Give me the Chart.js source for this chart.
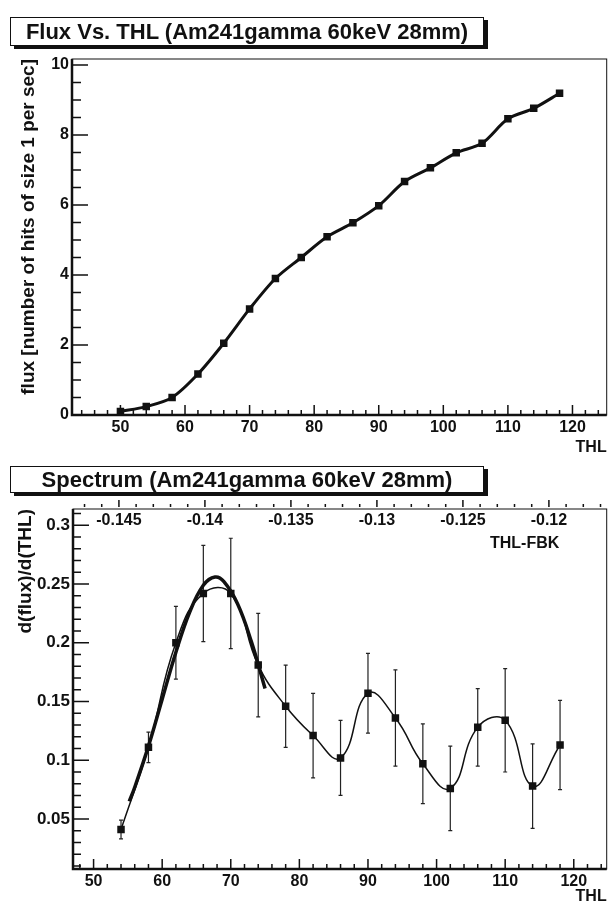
<!DOCTYPE html>
<html>
<head>
<meta charset="utf-8">
<script src="https://cdn.jsdelivr.net/npm/chart.js@4.4.1/dist/chart.umd.min.js"></script>
<style>
  html, body { margin: 0; padding: 0; background: #fff; }
  body { width: 612px; height: 908px; position: relative; overflow: hidden;
         font-family: 'Liberation Sans', Arial, Helvetica, sans-serif; color: #111; }
  canvas { position: absolute; left: 0; }
  #c1 { top: 0; }
  #c2 { top: 460px; }
  .titlebox { position: absolute; left: 10px; width: 474px; box-sizing: border-box;
              border: 1.5px solid #111; background: #fff; box-shadow: 4px 3px 0 #111;
              font-weight: bold; font-size: 22px; text-align: center; z-index: 2; white-space: nowrap; }
  #t1 { top: 17px; height: 29px; line-height: 27px; }
  #t2 { top: 466px; height: 27px; line-height: 25px; }
  #fbk { position: absolute; left: 490px; top: 534px; font-weight: bold; font-size: 16px; z-index: 2; }
</style>
</head>
<body>
<div class="titlebox" id="t1">Flux Vs. THL (Am241gamma 60keV 28mm)</div>
<div class="titlebox" id="t2">Spectrum (Am241gamma 60keV 28mm)</div>
<div id="fbk">THL-FBK</div>
<canvas id="c1" width="612" height="460"></canvas>
<canvas id="c2" width="612" height="448"></canvas>
<script>
// flux vs THL
const fluxTHL = [50, 54, 58, 62, 66, 70, 74, 78, 82, 86, 90, 94, 98, 102, 106, 110, 114, 118];
const flux = [0.10, 0.24, 0.50, 1.17, 2.05, 3.03, 3.90, 4.50, 5.09, 5.49, 5.98, 6.67, 7.06, 7.49, 7.76, 8.46, 8.76, 9.19];

// spectrum d(flux)/d(THL) with errors
const specTHL = [54, 58, 62, 66, 70, 74, 78, 82, 86, 90, 94, 98, 102, 106, 110, 114, 118];
const spec = [0.041, 0.111, 0.200, 0.242, 0.242, 0.181, 0.146, 0.121, 0.102, 0.157, 0.136, 0.097, 0.076, 0.128, 0.134, 0.078, 0.113];
const specErr = [0.008, 0.013, 0.031, 0.041, 0.047, 0.044, 0.035, 0.036, 0.032, 0.034, 0.041, 0.034, 0.036, 0.033, 0.044, 0.036, 0.038];

// gaussian fit curve
const fitTHL = [55.2, 56, 58, 60, 62, 64, 66, 67.7, 69, 71, 73, 75];
const fit = [0.065, 0.077, 0.112, 0.152, 0.192, 0.226, 0.249, 0.256, 0.252, 0.233, 0.201, 0.161];

// tick labels
const fluxXTicks = [50, 60, 70, 80, 90, 100, 110, 120];
const fluxYTicks = [0, 2, 4, 6, 8, 10];
const specXTicks = [50, 60, 70, 80, 90, 100, 110, 120];
const specYTicks = [0.05, 0.1, 0.15, 0.2, 0.25, 0.3];
const fbkTicks = [-0.145, -0.14, -0.135, -0.13, -0.125, -0.12];

const INK = '#111';
const FONT = "'Liberation Sans', Arial, Helvetica, sans-serif";
const tickFont = { family: FONT, size: 16, weight: 'bold' };
const titleFont = { family: FONT, size: 16, weight: 'bold' };

// ROOT style frame with inward major/minor ticks
const rootAxes = {
  id: 'rootAxes',
  afterDraw(chart, args, opts) {
    const ctx = chart.ctx, a = chart.chartArea;
    ctx.save();
    ctx.strokeStyle = INK;
    ctx.lineWidth = 1;
    ctx.strokeRect(a.left, a.top, a.right - a.left, a.bottom - a.top);
    ctx.lineWidth = 2.5;
    ctx.beginPath();
    ctx.moveTo(a.left, a.top);
    ctx.lineTo(a.left, a.bottom);
    ctx.lineTo(a.right, a.bottom);
    ctx.stroke();
    ctx.lineWidth = 1.5;
    for (const t of opts.ticks) {
      const s = chart.scales[t.id];
      const ratio = Math.round(t.major / t.minor);
      const k0 = Math.ceil(s.min / t.minor - 1e-9);
      const k1 = Math.floor(s.max / t.minor + 1e-9);
      ctx.beginPath();
      for (let k = k0; k <= k1; k++) {
        const len = k % ratio === 0 ? t.majorLen : t.minorLen;
        const p = s.getPixelForValue(k * t.minor);
        if (t.side === 'bottom') { ctx.moveTo(p, a.bottom); ctx.lineTo(p, a.bottom - len); }
        else if (t.side === 'left') { ctx.moveTo(a.left, p); ctx.lineTo(a.left + len, p); }
        else { ctx.moveTo(p, a.top - 2); ctx.lineTo(p, a.top - 2 - len); }
      }
      ctx.stroke();
    }
    ctx.restore();
  }
};

// vertical error bars on the spectrum points
const errorBars = {
  id: 'errorBars',
  beforeDatasetsDraw(chart) {
    const ctx = chart.ctx, xs = chart.scales.x, ys = chart.scales.y;
    ctx.save();
    ctx.strokeStyle = '#222';
    ctx.lineWidth = 1.2;
    specTHL.forEach((xv, i) => {
      const x = xs.getPixelForValue(xv);
      const hi = ys.getPixelForValue(spec[i] + specErr[i]);
      const lo = ys.getPixelForValue(spec[i] - specErr[i]);
      ctx.beginPath();
      ctx.moveTo(x, hi); ctx.lineTo(x, lo);
      ctx.moveTo(x - 2, hi); ctx.lineTo(x + 2, hi);
      ctx.moveTo(x - 2, lo); ctx.lineTo(x + 2, lo);
      ctx.stroke();
    });
    ctx.restore();
  }
};

const fmt = v => String(v);

new Chart(document.getElementById('c1'), {
  type: 'line',
  data: {
    datasets: [{
      data: fluxTHL.map((x, i) => ({ x, y: flux[i] })),
      borderColor: INK,
      borderWidth: 3,
      tension: 0.3,
      pointStyle: 'rect',
      pointRadius: 5.3,
      pointBorderWidth: 0,
      pointBackgroundColor: INK
    }]
  },
  options: {
    responsive: false,
    animation: false,
    layout: { padding: { top: 59, right: 1, left: 0, bottom: 0 } },
    plugins: {
      legend: { display: false },
      tooltip: { enabled: false },
      rootAxes: {
        ticks: [
          { id: 'x', side: 'bottom', major: 10, minor: 2, majorLen: 10, minorLen: 5 },
          { id: 'y', side: 'left', major: 2, minor: 0.5, majorLen: 16, minorLen: 9 }
        ]
      }
    },
    scales: {
      x: {
        type: 'linear', min: 42.5, max: 125.3,
        grid: { display: false, drawTicks: false },
        border: { display: false },
        afterBuildTicks: s => { s.ticks = fluxXTicks.map(value => ({ value })); },
        afterFit: s => { s.height = 45; },
        ticks: { font: tickFont, color: INK, padding: 3, maxRotation: 0, autoSkip: false, callback: fmt },
        title: { display: true, text: 'THL', align: 'end', color: INK, font: titleFont, padding: { top: 0, bottom: 3 } }
      },
      y: {
        type: 'linear', min: 0, max: 10.17,
        grid: { display: false, drawTicks: false },
        border: { display: false },
        afterBuildTicks: s => { s.ticks = fluxYTicks.map(value => ({ value })); },
        afterFit: s => { s.width = 72; },
        ticks: { font: tickFont, color: INK, padding: 3, callback: fmt },
        title: { display: true, text: 'flux [number of hits of size 1 per sec]', align: 'end', color: INK,
                 font: { family: FONT, size: 19, weight: 'bold' }, padding: { top: 17, bottom: 0 } }
      }
    }
  },
  plugins: [rootAxes]
});

new Chart(document.getElementById('c2'), {
  type: 'line',
  data: {
    datasets: [{
      data: fitTHL.map((x, i) => ({ x, y: fit[i] })),
      borderColor: INK,
      borderWidth: 3.5,
      tension: 0.4,
      pointRadius: 0
    }, {
      data: specTHL.map((x, i) => ({ x, y: spec[i] })),
      borderColor: INK,
      borderWidth: 1.5,
      tension: 0.45,
      pointStyle: 'rect',
      pointRadius: 5.3,
      pointBorderWidth: 0,
      pointBackgroundColor: INK
    }]
  },
  options: {
    responsive: false,
    animation: false,
    layout: { padding: { top: 0, right: 1, left: 0, bottom: 0 } },
    plugins: {
      legend: { display: false },
      tooltip: { enabled: false },
      rootAxes: {
        ticks: [
          { id: 'x', side: 'bottom', major: 10, minor: 2, majorLen: 10, minorLen: 5 },
          { id: 'y', side: 'left', major: 0.05, minor: 0.01, majorLen: 16, minorLen: 8 },
          { id: 'x2', side: 'top', major: 0.005, minor: 0.001, majorLen: 7, minorLen: 3 }
        ]
      }
    },
    scales: {
      x: {
        type: 'linear', position: 'bottom', min: 47, max: 124.8,
        grid: { display: false, drawTicks: false },
        border: { display: false },
        afterBuildTicks: s => { s.ticks = specXTicks.map(value => ({ value })); },
        afterFit: s => { s.height = 39; },
        ticks: { font: tickFont, color: INK, padding: 3, maxRotation: 0, autoSkip: false, callback: fmt },
        title: { display: true, text: 'THL', align: 'end', color: INK, font: titleFont, padding: { top: 0, bottom: 1.5 } }
      },
      x2: {
        type: 'linear', position: 'top', axis: 'x', min: -0.14767, max: -0.11664,
        grid: { display: false, drawTicks: false },
        border: { display: false },
        afterBuildTicks: s => { s.ticks = fbkTicks.map(value => ({ value })); },
        afterFit: s => { s.height = 49; },
        ticks: { font: tickFont, color: INK, padding: 2, mirror: true, maxRotation: 0, autoSkip: false, callback: fmt }
      },
      y: {
        type: 'linear', min: 0.0074, max: 0.3139,
        grid: { display: false, drawTicks: false },
        border: { display: false },
        afterBuildTicks: s => { s.ticks = specYTicks.map(value => ({ value })); },
        afterFit: s => { s.width = 73; },
        ticks: { font: { family: FONT, size: 17, weight: 'bold' }, color: INK, padding: 3, callback: fmt },
        title: { display: true, text: 'd(flux)/d(THL)', align: 'end', color: INK,
                 font: { family: FONT, size: 19, weight: 'bold' }, padding: { top: 14, bottom: 0 } }
      }
    }
  },
  plugins: [rootAxes, errorBars]
});
</script>
</body>
</html>
